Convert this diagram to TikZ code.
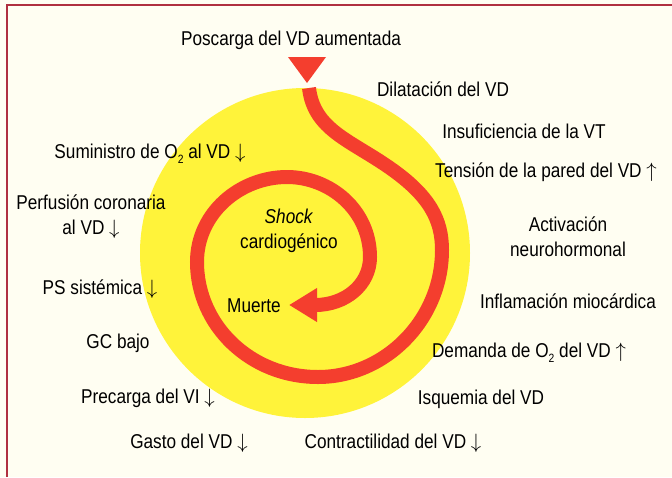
\documentclass[tikz,border=0pt]{standalone}
\usepackage{fontspec}
\setmainfont{Liberation Sans}[FakeStretch=0.86]
\usepackage{tikz}
\usetikzlibrary{arrows.meta}
\definecolor{cream}{RGB}{255,254,242}
\definecolor{sunyellow}{RGB}{255,243,58}
\definecolor{spiralred}{RGB}{244,62,46}
\definecolor{framered}{RGB}{176,48,64}
\newcommand{\dn}{ $\downarrow$}
\newcommand{\upp}{ $\uparrow$}
\newcommand{\Odos}{O\raisebox{-0.45ex}{\fontsize{12}{12}\selectfont 2}}
\tikzset{
  lbl/.style    ={align=center, inner sep=0pt, font=\fontsize{20}{25}\selectfont, text=black},
  spiral/.style ={draw=spiralred, line width=14pt, -{Triangle[width=32pt,length=28pt]}},
  frameline/.style={draw=framered, line width=1.5pt},
}

\begin{document}
\begin{tikzpicture}[x=1pt, y=-1pt]

  % ---- page, background and frame ----
  \useasboundingbox (0,0) rectangle (672,477);
  \fill[cream] (0,0) rectangle (672,477);
  \draw[frameline] (7,477) -- (7,5) -- (672,5);

  % ---- yellow disc ----
  \fill[sunyellow] (305,253) circle[radius=165];

  % ---- the spiral towards death ----
  \fill[spiralred] (288,57) -- (326,57) -- (307,83) -- cycle;
  \draw[spiral] (309,88) .. controls (314,130) and (350,140) .. (390,168)
    .. controls (430,196) and (442,220) .. (442,250)
    .. controls (442,320) and (385,377) .. (318,377)
    .. controls (250,377) and (197,325) .. (197,262)
    .. controls (197,213) and (240,177) .. (287,177)
    .. controls (330,177) and (370,210) .. (370,257)
    .. controls (370,285) and (345,305) .. (289,305);

  % ---- centre ----
  \node[lbl] (shock) at (289,231) {\textit{Shock}\\cardiogénico};
  \node[lbl] (muerte) at (254,306) {Muerte};

  % ---- labels round the disc ----
  \node[lbl] (poscarga) at (291,40) {Poscarga del VD aumentada};
  \node[lbl] (dilatacion) at (443,89) {Dilatación del VD};
  \node[lbl] (insuf) at (524,131) {Insuficiencia de la VT};
  \node[lbl] (tension) at (546,172) {Tensión de la pared del VD\upp};
  \node[lbl] (activ) at (568,237) {Activación\\neurohormonal};
  \node[lbl] (inflam) at (568,301) {Inflamación miocárdica};
  \node[lbl] (demanda) at (529,353) {Demanda de \Odos{} del VD\upp};
  \node[lbl] (isquemia) at (481,399) {Isquemia del VD};
  \node[lbl] (contract) at (393,443) {Contractilidad del VD\dn};
  \node[lbl] (gasto) at (189,443) {Gasto del VD\dn};
  \node[lbl] (precarga) at (148,398) {Precarga del VI\dn};
  \node[lbl] (gcbajo) at (118,343) {GC bajo};
  \node[lbl] (pssist) at (100,289) {PS sistémica\dn};
  \node[lbl] (perfusion) at (91,217) {Perfusión coronaria\\al VD\dn};
  \node[lbl] (suministro) at (150,154) {Suministro de \Odos{} al VD\dn};
\end{tikzpicture}
\end{document}
